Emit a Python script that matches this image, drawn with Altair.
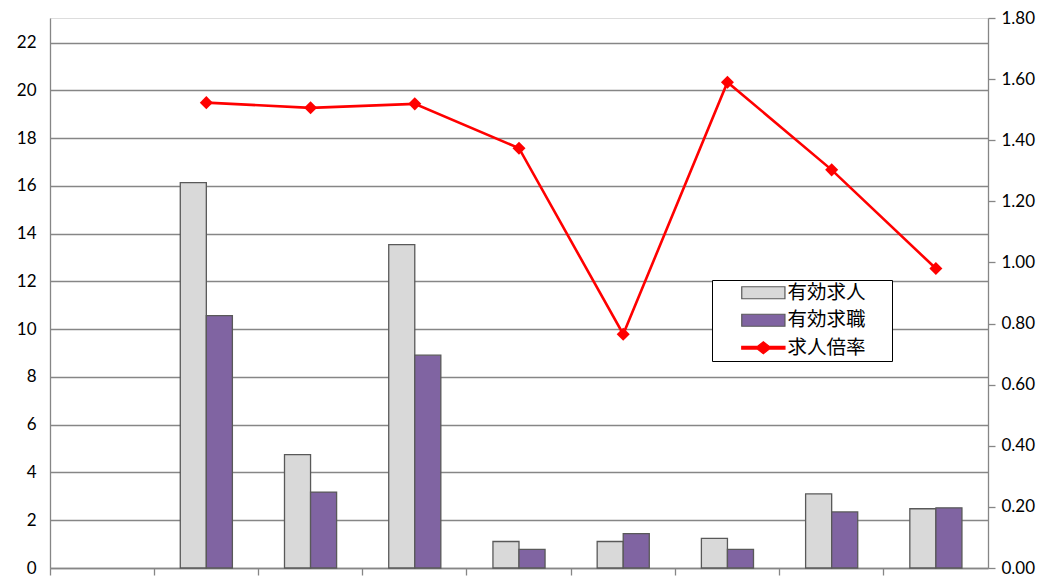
import altair as alt
import pandas as pd

categories = ["1", "2", "3", "4", "5", "6", "7", "8", "9"]
job_offers = [None, 16.14, 4.75, 13.54, 1.11, 1.11, 1.24, 3.10, 2.48]
job_seekers = [None, 10.57, 3.18, 8.91, 0.78, 1.44, 0.78, 2.35, 2.52]
ratio = [None, 1.523, 1.506, 1.519, 1.374, 0.765, 1.590, 1.303, 0.980]
series_names = ["有効求人", "有効求職", "求人倍率"]
left_ticks = [0, 2, 4, 6, 8, 10, 12, 14, 16, 18, 20, 22]
right_ticks = [0.0, 0.2, 0.4, 0.6, 0.8, 1.0, 1.2, 1.4, 1.6, 1.8]

fill_colors = ["#d9d9d9", "#8064a2", "#ff0000"]
stroke_colors = ["#595959", "#595959", "#ff0000"]
legend_shapes = [
    "M-1,-1H6.2V1H-1Z",
    "M-1,-1H6.2V1H-1Z",
    "M-1,-0.22H1.6L2.6,-1L3.6,-0.22H6.2V0.22H3.6L2.6,1L1.6,0.22H-1Z",
]

rows = []
for c, a, b in zip(categories, job_offers, job_seekers):
    if a is not None:
        rows.append({"cat": c, "series": series_names[0], "value": a})
        rows.append({"cat": c, "series": series_names[1], "value": b})
bar_df = pd.DataFrame(rows)
line_df = pd.DataFrame(
    [{"cat": c, "series": series_names[2], "value": r} for c, r in zip(categories, ratio) if r is not None]
)
all_df = pd.concat([bar_df, line_df], ignore_index=True)

GRAY = "#868686"
NUM_FONT = "Lato"

x_enc = alt.X(
    "cat:N",
    scale=alt.Scale(domain=categories, paddingInner=0, paddingOuter=0),
    axis=alt.Axis(labels=False, title=None, ticks=True, tickSize=7, bandPosition=0,
                  tickColor=GRAY, tickWidth=1.3, domainColor=GRAY, domainWidth=1.3, grid=False),
)
y_left = alt.Y(
    "value:Q",
    scale=alt.Scale(domain=[0, 23.03], nice=False, zero=True),
    axis=alt.Axis(values=left_ticks, title=None, ticks=False, labelFont=NUM_FONT, labelFontSize=17,
                  labelColor="#000000", labelPadding=14, domainColor=GRAY, domainWidth=1.3,
                  grid=True, gridColor=GRAY, gridWidth=1.3),
)
y_right = alt.Y(
    "value:Q",
    scale=alt.Scale(domain=[0, 1.8], nice=False, zero=True),
    axis=alt.Axis(orient="right", values=right_ticks, format=".2f", title=None, ticks=True, tickSize=7,
                  tickColor=GRAY, tickWidth=1.3, labelFont=NUM_FONT, labelFontSize=17,
                  labelColor="#000000", labelPadding=6, domainColor=GRAY, domainWidth=1.3, grid=False),
)

legend = alt.Legend(
    title=None, orient="none", legendX=662, legendY=262, direction="vertical",
    symbolSize=144, symbolStrokeWidth=1.2, symbolOffset=23, labelOffset=30,
    symbolOpacity=1,
    labelFont="Noto Sans CJK JP", labelFontSize=19.5, labelColor="#000000",
    labelExpr="datum.label + '\u3000\u2009\u200b'",
    padding=3, rowPadding=6.5, strokeColor="#000000", fillColor="#ffffff",
)

fill_enc = alt.Fill("series:N", scale=alt.Scale(domain=series_names, range=fill_colors), legend=legend)
stroke_enc = alt.Stroke("series:N", scale=alt.Scale(domain=series_names, range=stroke_colors), legend=legend)
shape_enc = alt.Shape("series:N", scale=alt.Scale(domain=series_names, range=legend_shapes), legend=legend)

bars = alt.Chart(bar_df).mark_bar(strokeWidth=1.3).encode(
    x=x_enc,
    xOffset=alt.XOffset("series:N", scale=alt.Scale(domain=series_names[:2], paddingInner=0, paddingOuter=1)),
    y=y_left,
    fill=fill_enc,
    stroke=stroke_enc,
)

helper = alt.Chart(all_df).mark_point(filled=True, size=0, strokeWidth=1.2, opacity=1).encode(
    x=x_enc, y=y_left, fill=fill_enc, stroke=stroke_enc, shape=shape_enc,
)

line = alt.Chart(line_df).mark_line(color="#ff0000", strokeWidth=2.6).encode(x=x_enc, y=y_right)
points = alt.Chart(line_df).mark_point(shape="diamond", filled=True, size=170, color="#ff0000", opacity=1).encode(
    x=x_enc, y=y_right
)

chart = (
    alt.layer(alt.layer(bars, helper), alt.layer(line, points))
    .resolve_scale(y="independent")
    .properties(width=938, height=550, autosize=alt.AutoSizeParams(type="none"),
                padding={"left": 42, "top": 10, "right": 50, "bottom": 8})
    .configure_view(stroke=None)
    .configure(background="white")
)

chart.save("out.html", embed_options={"renderer": "svg", "actions": False})
